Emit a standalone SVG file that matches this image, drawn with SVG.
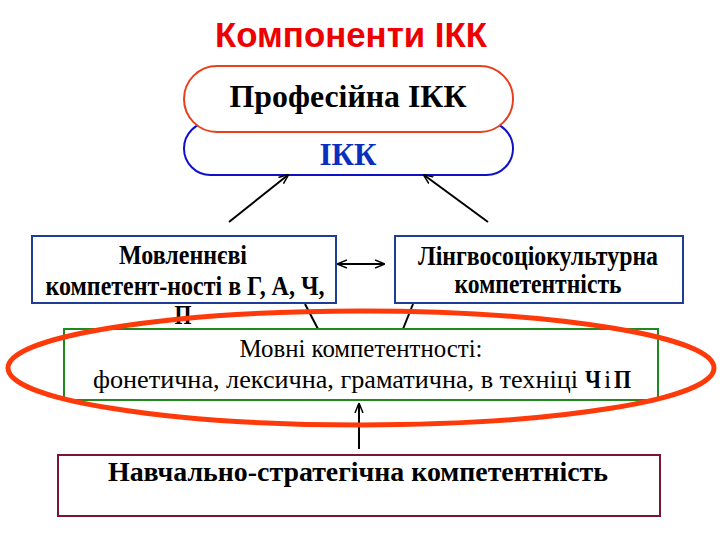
<svg xmlns="http://www.w3.org/2000/svg" width="720" height="540" viewBox="0 0 720 540">
<style>
.t{font-family:"Liberation Serif","Times New Roman",serif;font-weight:bold;fill:#000;text-anchor:middle}
.n{font-weight:normal}
.s{text-anchor:start}
.box{fill:#fff;stroke-width:2}
.ln{stroke:#000;stroke-width:2;fill:none}
</style>
<defs>
<marker id="ah" viewBox="0 0 10 10" refX="9" refY="5" markerWidth="5" markerHeight="5" orient="auto-start-reverse" markerUnits="strokeWidth">
<path d="M0,1 L10,5 L0,9" fill="none" stroke="#000" stroke-width="1.5"/>
</marker>
</defs>
<rect width="720" height="540" fill="#fff"/>
<text x="351" y="47" font-family="Liberation Sans, Arial, sans-serif" font-weight="bold" font-size="35" fill="#ee0000" text-anchor="middle" textLength="272" lengthAdjust="spacingAndGlyphs">Компоненти ІКК</text>
<g id="ikk">
<rect x="184" y="122" width="329" height="53" rx="26.5" class="box" stroke="#1010c8" stroke-width="3"/>
<text x="348" y="165" class="t" font-size="31" style="fill:#0a2fbf" textLength="57" lengthAdjust="spacingAndGlyphs">ІКК</text>
</g>
<g id="prof">
<rect x="184" y="66" width="329" height="66" rx="33" class="box" stroke="#e8401c" stroke-width="2.5"/>
<text x="348" y="107" class="t" font-size="31" textLength="237" lengthAdjust="spacingAndGlyphs">Професійна ІКК</text>
</g>
<g id="connectors">
<line x1="229" y1="222" x2="288" y2="175" class="ln" marker-end="url(#ah)"/>
<line x1="488" y1="222" x2="424" y2="175" class="ln" marker-end="url(#ah)"/>
<line x1="338" y1="264" x2="384" y2="264" class="ln" marker-start="url(#ah)" marker-end="url(#ah)"/>
<line x1="305" y1="304" x2="318" y2="329" class="ln"/>
<line x1="413" y1="304" x2="403" y2="329" class="ln"/>
<line x1="359" y1="449" x2="359" y2="404" class="ln" stroke-width="2.5" marker-end="url(#ah)"/>
</g>
<g id="movlen">
<rect x="32" y="236" width="304" height="67" class="box" stroke="#1f3c99"/>
<text x="183" y="264" class="t" font-size="27" textLength="128" lengthAdjust="spacingAndGlyphs">Мовленнєві</text>
<text x="185" y="295" class="t" font-size="27" textLength="279" lengthAdjust="spacingAndGlyphs">компетент-ності в Г, А, Ч,</text>
<text x="183" y="324" class="t" font-size="27" textLength="17" lengthAdjust="spacingAndGlyphs">П</text>
</g>
<g id="lingvo">
<rect x="395" y="236" width="288" height="67" class="box" stroke="#1f3c99"/>
<text x="538" y="265" class="t" font-size="27" textLength="240" lengthAdjust="spacingAndGlyphs">Лінгвосоціокультурна</text>
<text x="538" y="293" class="t" font-size="27" textLength="167" lengthAdjust="spacingAndGlyphs">компетентність</text>
</g>
<g id="movni">
<rect x="64" y="329" width="594" height="71" class="box" stroke="#1e8a1e"/>
<text x="361" y="357" class="t n" font-size="26" textLength="243" lengthAdjust="spacingAndGlyphs">Мовні компетентності:</text>
<text x="93" y="388" class="t n s" font-size="26" textLength="485" lengthAdjust="spacingAndGlyphs">фонетична, лексична, граматична, в техніці</text>
<text x="585" y="388" class="t s" font-size="26" textLength="16" lengthAdjust="spacingAndGlyphs">Ч</text>
<text x="607.5" y="388" class="t n" font-size="26">і</text>
<text x="614" y="388" class="t s" font-size="26" textLength="17" lengthAdjust="spacingAndGlyphs">П</text>
</g>
<ellipse cx="361" cy="368" rx="353" ry="57" fill="none" stroke="#ff3a0a" stroke-width="5"/>
<g id="navch">
<rect x="58" y="455" width="602" height="61" class="box" stroke="#7a1535"/>
<text x="358" y="481" class="t" font-size="28" textLength="500" lengthAdjust="spacingAndGlyphs">Навчально-стратегічна компетентність</text>
</g>
</svg>
